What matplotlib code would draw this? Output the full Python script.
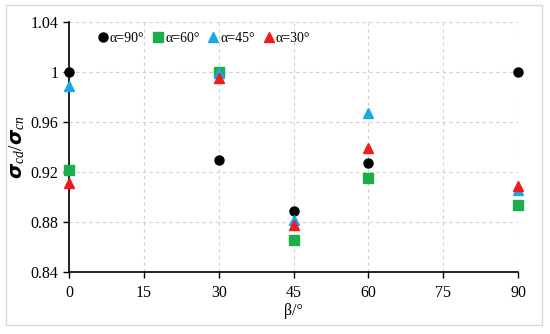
import matplotlib
matplotlib.use("Agg")
import matplotlib.pyplot as plt
from matplotlib.patches import Rectangle

# données
beta = [0, 30, 45, 60, 90]
a90 = [1.000, 0.930, 0.889, 0.927, 1.000]
a60 = [0.922, 1.000, 0.866, 0.915, 0.894]
a45 = [0.989, 0.999, 0.882, 0.967, 0.906]
a30 = [0.911, 0.995, 0.878, 0.939, 0.909]

series = [
    (a90, "α=90°", "o", "black"),
    (a60, "α=60°", "s", "#1aaf4b"),
    (a45, "α=45°", "^", "#1aa7e6"),
    (a30, "α=30°", "^", "#ee1c1c"),
]

plt.rcParams["font.family"] = "Liberation Serif"
plt.rcParams["mathtext.fontset"] = "custom"
plt.rcParams["mathtext.rm"] = "Liberation Serif"
plt.rcParams["mathtext.it"] = "Liberation Serif:italic"
plt.rcParams["mathtext.bf"] = "Liberation Serif:bold"

fig = plt.figure(figsize=(5.5, 3.34), dpi=100)
ax = fig.add_axes([0.1255, 0.1856, 0.8164, 0.7485])

for vals, lab, mk, col in series:
    ax.plot(beta, vals, linestyle="none", marker=mk, color=col, markersize=6.5,
            label=lab, clip_on=False, zorder=3)

ax.set_xlim(0, 90)
ax.set_ylim(0.84, 1.04)
ax.set_xticks([0, 15, 30, 45, 60, 75, 90])
ax.set_yticks([0.84, 0.88, 0.92, 0.96, 1.0, 1.04])
ax.set_yticklabels(["0.84", "0.88", "0.92", "0.96", "1", "1.04"])
ax.tick_params(labelsize=11.5, length=4, width=1, color="black")
ax.tick_params(axis="x", pad=5)
ax.grid(True, linestyle=(0, (3, 3)), color="#d0d0d0", linewidth=0.8)
ax.spines["top"].set_visible(False)
ax.spines["right"].set_visible(False)
ax.spines["left"].set_linewidth(1.2)
ax.spines["bottom"].set_linewidth(1.2)

ax.set_xlabel("β/°", fontsize=11.5, labelpad=2)
ax.set_ylabel(r"$\boldsymbol{\sigma}_{cd}/\boldsymbol{\sigma}_{cn}$", fontsize=14, labelpad=3)

ax.legend(loc="upper left", bbox_to_anchor=(0.035, 1.0), ncol=4, frameon=False,
          fontsize=10, handletextpad=-0.1, columnspacing=0.4, handlelength=1.2,
          borderaxespad=0.3)

fig.patches.append(Rectangle((0.011, 0.027), 0.975, 0.958, transform=fig.transFigure,
                             fill=False, edgecolor="#d9d9d9", linewidth=1.0))

fig.savefig("out.png", dpi=100)
